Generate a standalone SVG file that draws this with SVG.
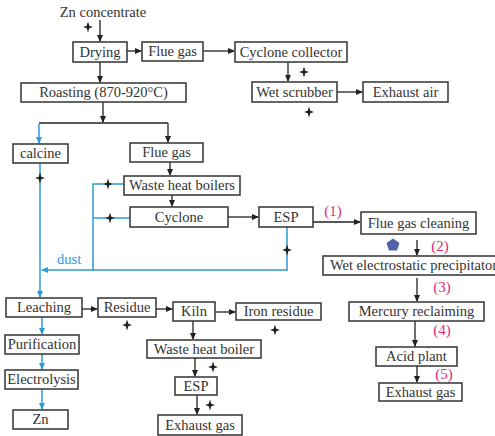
<svg xmlns="http://www.w3.org/2000/svg" xmlns:xlink="http://www.w3.org/1999/xlink" width="495" height="436" viewBox="0 0 495 436">
<style>
.box{fill:#fff;stroke:#333;stroke-width:1.5}
.t{font-family:"Liberation Serif","DejaVu Serif","Times New Roman",serif;font-size:14.5px;fill:#333;text-anchor:middle}
.k{stroke:#222;stroke-width:1.3;fill:none}
.b{stroke:#2b9ad8;stroke-width:1.5;fill:none}
.n{font-family:"Liberation Serif","DejaVu Serif","Times New Roman",serif;font-size:15px;fill:#e0287c;text-anchor:middle}
.dust{font-family:"Liberation Serif","DejaVu Serif","Times New Roman",serif;font-size:14.5px;fill:#2b9ad8}
.star{fill:#222}
</style>
<defs>
<marker id="ak" markerWidth="7" markerHeight="7" refX="6" refY="3.5" orient="auto" markerUnits="userSpaceOnUse"><path d="M0,0.5 L7,3.5 L0,6.5 Z" fill="#222"/></marker>
<marker id="ab" markerWidth="7" markerHeight="7" refX="6" refY="3.5" orient="auto" markerUnits="userSpaceOnUse"><path d="M0,0.5 L7,3.5 L0,6.5 Z" fill="#2b9ad8"/></marker>
<path id="star" class="star" d="M0,-5.5 L1.3,-1.3 L5,0 L1.3,1.3 L0,5.5 L-1.3,1.3 L-5,0 L-1.3,-1.3 Z"/>
</defs>

<g id="connectors">
<path class="k" d="M100,20 V41" marker-end="url(#ak)"/>
<path class="k" d="M127,51 H141" marker-end="url(#ak)"/>
<path class="k" d="M203,51 H234" marker-end="url(#ak)"/>
<path class="k" d="M100,62 V82" marker-end="url(#ak)"/>
<path class="k" d="M288,62 V81" marker-end="url(#ak)"/>
<path class="k" d="M337,92 H362" marker-end="url(#ak)"/>
<path class="k" d="M103,102 V122" marker-end="url(#ak)"/>
<path class="k" d="M39,123 H168"/>
<path class="k" d="M168,123 V142" marker-end="url(#ak)"/>
<path class="b" d="M39,124 V143" marker-end="url(#ab)"/>
<path class="b" d="M40,163 V297" marker-end="url(#ab)"/>
<path class="k" d="M170,162 V175" marker-end="url(#ak)"/>
<path class="k" d="M172,195 V206" marker-end="url(#ak)"/>
<path class="k" d="M228,217 H258" marker-end="url(#ak)"/>
<path class="k" d="M313,222 H360" marker-end="url(#ak)"/>
<path class="b" d="M124,184 H93 V270 M93,218 H130"/>
<path class="b" d="M287,227 V270 H42" marker-end="url(#ab)"/>
<path class="k" d="M417,240 V255" marker-end="url(#ak)"/>
<path class="k" d="M417,278 V301" marker-end="url(#ak)"/>
<path class="k" d="M415,321 V346" marker-end="url(#ak)"/>
<path class="k" d="M417,366 V382" marker-end="url(#ak)"/>
<path class="k" d="M82,309 H97" marker-end="url(#ak)"/>
<path class="k" d="M156,309 H172" marker-end="url(#ak)"/>
<path class="k" d="M215,312 H235" marker-end="url(#ak)"/>
<path class="k" d="M193,321 V339" marker-end="url(#ak)"/>
<path class="k" d="M195,358 V376" marker-end="url(#ak)"/>
<path class="k" d="M197,395 V414" marker-end="url(#ak)"/>
<path class="b" d="M42,317 V334" marker-end="url(#ab)"/>
<path class="b" d="M42,354 V369" marker-end="url(#ab)"/>
<path class="b" d="M42,389 V409" marker-end="url(#ab)"/>
<use xlink:href="#star" x="88" y="27"/>
<use xlink:href="#star" x="304" y="72"/>
<use xlink:href="#star" x="309" y="112"/>
<use xlink:href="#star" x="40" y="178"/>
<use xlink:href="#star" x="108" y="184"/>
<use xlink:href="#star" x="110" y="218"/>
<use xlink:href="#star" x="287" y="250"/>
<use xlink:href="#star" x="127" y="325"/>
<use xlink:href="#star" x="275" y="330"/>
<use xlink:href="#star" x="213" y="367"/>
<use xlink:href="#star" x="210" y="405"/>
<text class="dust" x="57" y="264">dust</text>
<text class="n" x="333" y="216">(1)</text>
<text class="n" x="440" y="251">(2)</text>
<text class="n" x="442" y="292">(3)</text>
<text class="n" x="442" y="335">(4)</text>
<text class="n" x="444" y="379">(5)</text>
<polygon points="393,238.5 399.5,243 397,250.5 389,250.5 386.5,243" fill="#5262a8"/>
</g>

<g id="zn-concentrate"><text class="t" x="103" y="17">Zn concentrate</text></g>
<g id="drying"><rect class="box" x="73" y="42" width="54" height="20"/><text class="t" x="100" y="57">Drying</text></g>
<g id="flue-gas-1"><rect class="box" x="142" y="42" width="61" height="19"/><text class="t" x="172.5" y="56">Flue gas</text></g>
<g id="cyclone-collector"><rect class="box" x="235" y="42" width="112" height="20"/><text class="t" x="291" y="57">Cyclone collector</text></g>
<g id="roasting"><rect class="box" x="21" y="83" width="165" height="19"/><text class="t" x="103.5" y="97">Roasting (870-920°C)</text></g>
<g id="wet-scrubber"><rect class="box" x="252" y="82" width="85" height="20"/><text class="t" x="294.5" y="97">Wet scrubber</text></g>
<g id="exhaust-air"><rect class="box" x="363" y="82" width="85" height="20"/><text class="t" x="405.5" y="97">Exhaust air</text></g>
<g id="calcine"><rect class="box" x="13" y="144" width="55" height="19"/><text class="t" x="40.5" y="158">calcine</text></g>
<g id="flue-gas-2"><rect class="box" x="130" y="143" width="73" height="19"/><text class="t" x="166.5" y="157">Flue gas</text></g>
<g id="waste-heat-boilers"><rect class="box" x="124" y="176" width="116" height="19"/><text class="t" x="182" y="190">Waste heat boilers</text></g>
<g id="cyclone"><rect class="box" x="130" y="207" width="98" height="20"/><text class="t" x="179" y="222">Cyclone</text></g>
<g id="esp-1"><rect class="box" x="259" y="207" width="54" height="20"/><text class="t" x="286" y="222">ESP</text></g>
<g id="flue-gas-cleaning"><rect class="box" x="361" y="212" width="115" height="22"/><text class="t" x="418.5" y="227.5">Flue gas cleaning</text></g>
<g id="wet-esp"><rect class="box" x="323" y="256" width="180" height="19"/><text class="t" x="330" y="270" style="text-anchor:start">Wet electrostatic precipitator</text></g>
<g id="mercury-reclaiming"><rect class="box" x="349" y="302" width="135" height="19"/><text class="t" x="416.5" y="316">Mercury reclaiming</text></g>
<g id="acid-plant"><rect class="box" x="376" y="347" width="81" height="19"/><text class="t" x="416.5" y="361">Acid plant</text></g>
<g id="exhaust-gas-1"><rect class="box" x="379" y="383" width="83" height="18"/><text class="t" x="420.5" y="397">Exhaust gas</text></g>
<g id="leaching"><rect class="box" x="6" y="298" width="76" height="19"/><text class="t" x="44" y="312">Leaching</text></g>
<g id="residue"><rect class="box" x="98" y="298" width="58" height="19"/><text class="t" x="127" y="312">Residue</text></g>
<g id="kiln"><rect class="box" x="173" y="302" width="42" height="19"/><text class="t" x="194" y="316">Kiln</text></g>
<g id="iron-residue"><rect class="box" x="236" y="303" width="85" height="17"/><text class="t" x="278.5" y="316">Iron residue</text></g>
<g id="purification"><rect class="box" x="5" y="335" width="74" height="19"/><text class="t" x="42" y="349">Purification</text></g>
<g id="electrolysis"><rect class="box" x="5" y="370" width="73" height="19"/><text class="t" x="41.5" y="384">Electrolysis</text></g>
<g id="zn"><rect class="box" x="13" y="410" width="55" height="19"/><text class="t" x="40.5" y="424">Zn</text></g>
<g id="waste-heat-boiler"><rect class="box" x="147" y="340" width="114" height="18"/><text class="t" x="204" y="354">Waste heat boiler</text></g>
<g id="esp-2"><rect class="box" x="175" y="377" width="42" height="18"/><text class="t" x="196" y="391">ESP</text></g>
<g id="exhaust-gas-2"><rect class="box" x="158" y="415" width="84" height="20"/><text class="t" x="200" y="430">Exhaust gas</text></g>
</svg>
